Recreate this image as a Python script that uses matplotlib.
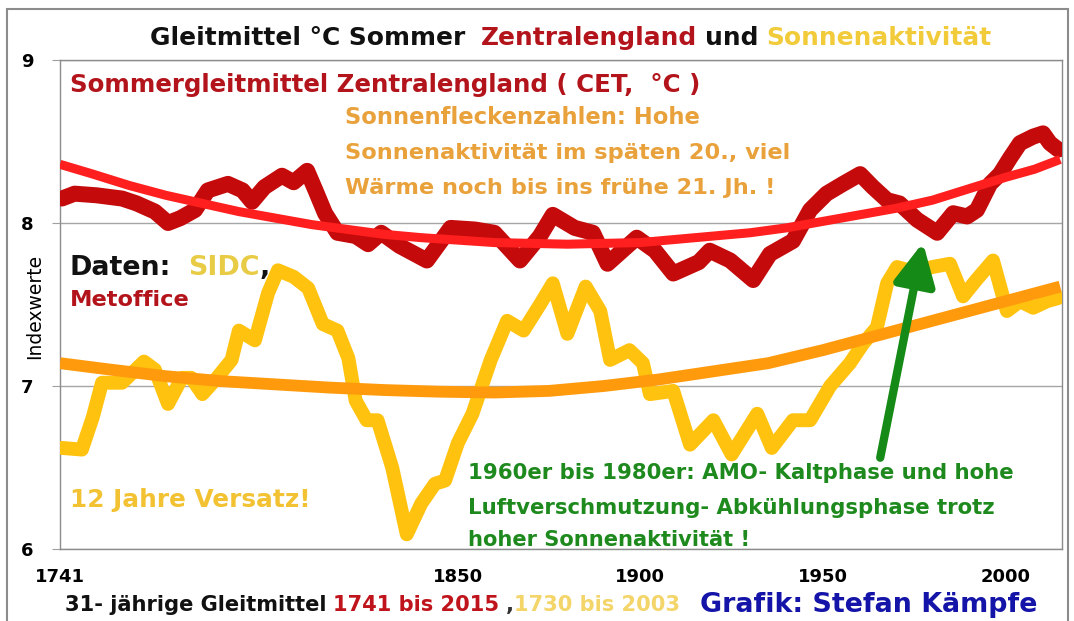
import matplotlib
matplotlib.use("Agg")
import matplotlib.pyplot as plt
from matplotlib.patches import Rectangle

# ---------------- data ----------------
cet_years = [1741.5, 1745, 1751, 1758, 1762, 1767, 1770.6, 1774, 1778, 1781.5, 1787, 1791,
             1793.6, 1797, 1801.8, 1805, 1808.7, 1811, 1813.6, 1817, 1822, 1825.4, 1829,
             1834, 1841.5, 1848, 1854.7, 1860, 1867, 1872.5, 1876, 1882, 1887, 1891, 1899,
             1904, 1909, 1916, 1919, 1924.6, 1930.9, 1935.5, 1941.8, 1946.5, 1951, 1955.5,
             1960.2, 1963.7, 1967.6, 1971, 1975.8, 1981.3, 1985.7, 1989.5, 1992.2, 1995.8,
             1998.5, 2001.3, 2004, 2007.6, 2010.3, 2012.2, 2014.5]
cet_vals = [8.15, 8.18, 8.17, 8.15, 8.12, 8.07, 8.00, 8.03, 8.08, 8.20, 8.24, 8.20,
            8.13, 8.22, 8.29, 8.25, 8.32, 8.20, 8.06, 7.94, 7.92, 7.87, 7.94,
            7.86, 7.77, 7.97, 7.96, 7.94, 7.77, 7.92, 8.05, 7.97, 7.94, 7.75, 7.91,
            7.83, 7.69, 7.76, 7.83, 7.77, 7.65, 7.81, 7.89, 8.08, 8.18, 8.24,
            8.30, 8.22, 8.14, 8.12, 8.02, 7.94, 8.06, 8.04, 8.08, 8.24,
            8.30, 8.40, 8.49, 8.53, 8.55, 8.49, 8.45]

cet_trend_years = [1741, 1750, 1760, 1770, 1780, 1790, 1800, 1810, 1820, 1830, 1840, 1850,
                   1860, 1870, 1880, 1890, 1900, 1910, 1920, 1930, 1940, 1950, 1960, 1970,
                   1980, 1990, 2000, 2008, 2015]
cet_trend_vals = [8.36, 8.30, 8.23, 8.17, 8.12, 8.07, 8.03, 7.99, 7.96, 7.93, 7.91, 7.895,
                  7.88, 7.875, 7.87, 7.875, 7.88, 7.90, 7.92, 7.94, 7.97, 8.01, 8.05, 8.09,
                  8.14, 8.21, 8.28, 8.33, 8.39]

sun_years = [1741.5, 1747, 1750, 1752.5, 1758, 1764, 1767, 1770.6, 1774.4, 1777, 1780,
             1784, 1788, 1790, 1794.4, 1798, 1800.7, 1805, 1809, 1813, 1817, 1820, 1822,
             1825, 1828, 1832, 1836, 1840, 1843.7, 1846.5, 1850, 1854, 1859, 1863.5, 1868,
             1872.5, 1876, 1880, 1885, 1889, 1891.7, 1897, 1900.7, 1902.6, 1909, 1913.6,
             1920, 1925, 1932, 1936, 1941.8, 1946.5, 1952, 1957.4, 1961, 1964.8, 1967.6,
             1970.3, 1975, 1980, 1984.8, 1988.4, 1992, 1996.6, 2000.4, 2004, 2007.6,
             2011.4, 2014.5]
sun_vals = [6.62, 6.61, 6.81, 7.02, 7.02, 7.15, 7.10, 6.89, 7.05, 7.05, 6.95,
            7.05, 7.16, 7.34, 7.28, 7.57, 7.71, 7.67, 7.60, 7.38, 7.34, 7.17, 6.91,
            6.79, 6.79, 6.50, 6.09, 6.28, 6.40, 6.42, 6.65, 6.83, 7.16, 7.40, 7.34,
            7.50, 7.63, 7.32, 7.61, 7.46, 7.16, 7.22, 7.14, 6.95, 6.97, 6.64,
            6.79, 6.58, 6.83, 6.62, 6.79, 6.79, 7.00, 7.14, 7.26, 7.36, 7.63,
            7.73, 7.70, 7.73, 7.75, 7.55, 7.65, 7.77, 7.46, 7.52, 7.48,
            7.52, 7.54]

sun_trend_years = [1741, 1755, 1770, 1785, 1800, 1815, 1830, 1845, 1860, 1875, 1890, 1905,
                   1920, 1935, 1950, 1965, 1980, 1995, 2005, 2015]
sun_trend_vals = [7.14, 7.10, 7.06, 7.03, 7.01, 6.99, 6.975, 6.965, 6.96, 6.97, 7.00, 7.04,
                  7.09, 7.14, 7.22, 7.31, 7.40, 7.49, 7.55, 7.61]

x_tick_years = [1741, 1850, 1900, 1950, 2000]
y_ticks = [6, 7, 8, 9]

arrow_tail = (1965.7, 6.56)
arrow_head = (1977.4, 7.88)

# ---------------- figure ----------------
W, H, DPI = 1074, 621, 100
plt.rcParams["font.family"] = ["DejaVu Sans"]

fig = plt.figure(figsize=(W / DPI, H / DPI), dpi=DPI)
fig.patch.set_facecolor("white")
fig.patches.append(Rectangle((7 / W, -0.02), (1068 - 7) / W, 1 - 9 / H + 0.02,
                             transform=fig.transFigure, fill=False,
                             edgecolor="#8C8C8C", lw=1.5))

ax = fig.add_axes([60 / W, 1 - 549 / H, (1062 - 60) / W, (549 - 60) / H])
ax.set_xlim(1741, 2015.5)
ax.set_ylim(6, 9)

ax.plot(cet_years, cet_vals, color="#C40A0A", lw=11.5, solid_capstyle="round",
        solid_joinstyle="round", zorder=3)
ax.plot(cet_trend_years, cet_trend_vals, color="#FF1F1F", lw=6.5,
        solid_capstyle="butt", solid_joinstyle="round", zorder=4)
ax.plot(sun_years, sun_vals, color="#FFC20E", lw=10, solid_capstyle="round",
        solid_joinstyle="round", zorder=3)
ax.plot(sun_trend_years, sun_trend_vals, color="#FF9A0D", lw=8.5,
        solid_capstyle="butt", solid_joinstyle="round", zorder=4)

ax.annotate("", xy=arrow_head, xytext=arrow_tail, zorder=6,
            arrowprops=dict(arrowstyle="-|>,head_length=1.0,head_width=0.5",
                            mutation_scale=25, color="#168A16", lw=6,
                            shrinkA=0, shrinkB=0))

ax.set_yticks(y_ticks)
ax.set_yticklabels([str(v) for v in y_ticks], fontsize=13, fontweight="bold")
ax.set_xticks(x_tick_years)
ax.set_xticklabels([str(v) for v in x_tick_years], fontsize=13, fontweight="bold")
ax.tick_params(axis="y", length=6, color="#A0A0A0", pad=13)
ax.tick_params(axis="x", length=0, pad=14)
ax.grid(axis="y", color="#A6A6A6", lw=1.0)
ax.set_axisbelow(True)
for s in ax.spines.values():
    s.set_color("#8C8C8C")
    s.set_linewidth(1.0)

fig.text(35 / W, 1 - 306 / H, "Indexwerte", rotation=90, ha="center", va="center",
         fontsize=13.5)

renderer = fig.canvas.get_renderer()


def put_line(x0, x1, y, parts, weight="bold"):
    """parts: list of (text, color, spaces_before)."""
    base = 20.0
    sp = 0.318  # DejaVu Sans Bold space width in em
    texts = []
    for s, c, g in parts:
        t = fig.text(0, 1 - y / H, s, color=c, fontsize=base, fontweight=weight,
                     ha="left", va="center")
        texts.append((t, g))
    total = 0
    for t, g in texts:
        total += t.get_window_extent(renderer).width + g * sp * base * DPI / 72
    size = base * (x1 - x0) / total
    x = x0
    for t, g in texts:
        t.set_fontsize(size)
        x += g * sp * size * DPI / 72
        t.set_x(x / W)
        x += t.get_window_extent(renderer).width


DARKRED = "#B3141B"
ORANGE = "#E9A23B"
YELLOW = "#F2C232"
GREEN = "#1E8A1E"

put_line(150, 990, 38, [("Gleitmittel °C Sommer", "#111111", 0),
                        ("Zentralengland", DARKRED, 2),
                        ("und", "#111111", 1),
                        ("Sonnenaktivität", "#F2CB3A", 1)])
put_line(70, 703, 85, [("Sommergleitmittel Zentralengland ( CET,  °C )", DARKRED, 0)])
put_line(345, 700, 118, [("Sonnenfleckenzahlen: Hohe", ORANGE, 0)])
put_line(345, 790, 153, [("Sonnenaktivität im späten 20., viel", ORANGE, 0)])
put_line(345, 775, 188, [("Wärme noch bis ins frühe 21. Jh. !", ORANGE, 0)])
put_line(70, 270, 268, [("Daten:", "#111111", 0), ("SIDC", "#E8CC45", 2),
                        (",", "#111111", 0)])
put_line(70, 190, 300, [("Metoffice", DARKRED, 0)])
put_line(70, 310, 500, [("12 Jahre Versatz!", YELLOW, 0)])
put_line(468, 1013, 473, [("1960er bis 1980er: AMO- Kaltphase und hohe", GREEN, 0)])
put_line(468, 995, 508, [("Luftverschmutzung- Abkühlungsphase trotz", GREEN, 0)])
put_line(468, 750, 540, [("hoher Sonnenaktivität !", GREEN, 0)])
put_line(65, 680, 605, [("31- jährige Gleitmittel", "#111111", 0),
                        ("1741 bis 2015", "#C0141C", 1),
                        (",", "#333333", 1),
                        ("1730 bis 2003", "#F3D56A", 0)])
put_line(700, 1037, 605, [("Grafik: Stefan Kämpfe", "#1414A8", 0)])

fig.savefig("out.png", dpi=DPI, facecolor="white")
